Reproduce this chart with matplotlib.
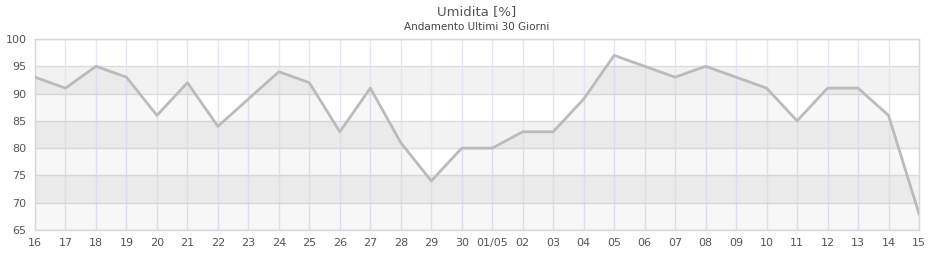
import matplotlib
matplotlib.use("Agg")
import matplotlib.pyplot as plt

labels = ["16", "17", "18", "19", "20", "21", "22", "23", "24", "25", "26", "27", "28", "29", "30",
          "01/05", "02", "03", "04", "05", "06", "07", "08", "09", "10", "11", "12", "13", "14", "15"]
humidity = [93, 91, 95, 93, 86, 92, 84, 89, 94, 92, 83, 91, 81, 74, 80,
            80, 83, 83, 89, 97, 95, 93, 95, 93, 91, 85, 91, 91, 86, 68]
y_ticks = [65, 70, 75, 80, 85, 90, 95, 100]

fig = plt.figure(figsize=(9.4, 2.6), dpi=100)
ax = fig.add_axes([35/940, 30/260, 884/940, 191/260])
x = list(range(len(labels)))
ax.set_xlim(0, len(labels) - 1)
ax.set_ylim(65, 100)

for lo in (70, 80, 90):
    ax.axhspan(lo, lo + 5, color="#f2f2f2", zorder=0, lw=0)
for xi in x:
    ax.axvline(xi, color="#e6e4f8", lw=1, zorder=1)
for yv in y_ticks:
    ax.axhline(yv, color="#dddddd", lw=1, zorder=1)

ax.fill_between(x, humidity, 65, color="black", alpha=0.03, lw=0, zorder=2)
ax.plot(x, humidity, color="#bbbbbb", lw=2.0, solid_joinstyle="round", zorder=3)

ax.set_xticks(x)
ax.set_xticklabels(labels)
ax.set_yticks(y_ticks)
ax.tick_params(length=0, labelsize=8, colors="#555555", pad=6)
for s in ax.spines.values():
    s.set_color("#d8d8d8")
    s.set_linewidth(1)

fig.text(477/940, 1 - 12/260, "Umidita [%]", ha="center", va="center", fontsize=9.5, color="#555555")
fig.text(477/940, 1 - 27/260, "Andamento Ultimi 30 Giorni", ha="center", va="center", fontsize=7.5, color="#444444")

fig.savefig("out.png", dpi=100)
